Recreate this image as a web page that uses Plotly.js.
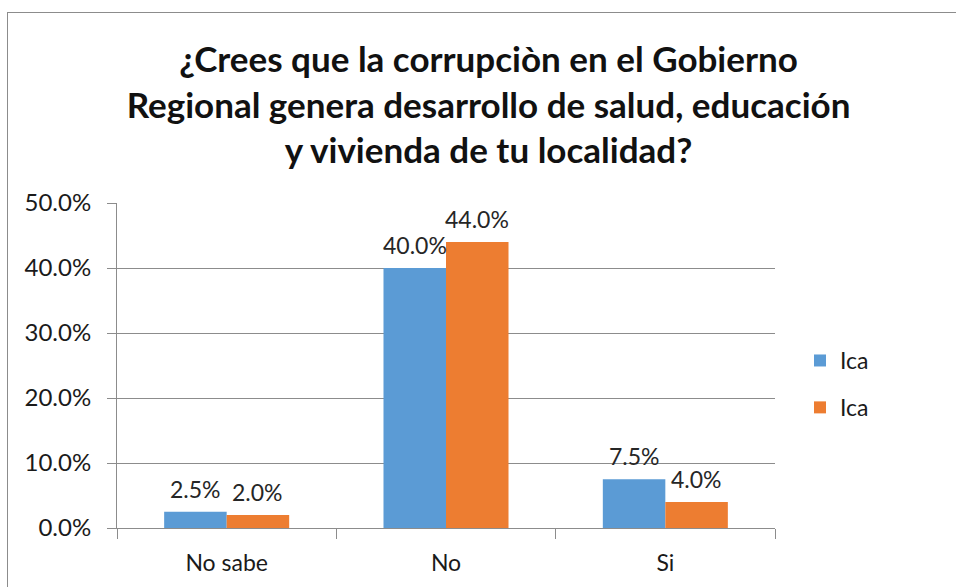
<!DOCTYPE html>
<html>
<head>
<meta charset="utf-8">
<script src="https://cdn.plot.ly/plotly-3.0.1.min.js"></script>
<style>
html,body{margin:0;padding:0;background:#fff;}
#wrap{position:relative;width:956px;height:587px;overflow:hidden;}
#chart{position:absolute;left:0;top:0;width:956px;height:587px;}
#frame{position:absolute;left:7px;top:12px;width:1000px;height:700px;border-left:1.5px solid #8c8c8c;border-top:1.5px solid #8c8c8c;pointer-events:none;}
</style>
</head>
<body>
<div id="wrap"><div id="chart"></div><div id="frame"></div></div>
<script>
const categories = ["No sabe", "No", "Si"];
const seriesNames = ["Ica", "Ica"];
const series1 = [0.025, 0.40, 0.075];
const series2 = [0.020, 0.44, 0.040];
const labels1 = ["2.5%", "40.0%", "7.5%"];
const labels2 = ["2.0%", "44.0%", "4.0%"];
const yTickVals = [0, 0.1, 0.2, 0.3, 0.4, 0.5];
const yTickText = ["0.0%", "10.0%", "20.0%", "30.0%", "40.0%", "50.0%"];

const FONT = "Lato, 'Open Sans', sans-serif";
const textFont = {family: FONT, size: 23, color: "#262626"};

const traces = [
  {type: "bar", name: seriesNames[0], x: categories, y: series1,
   marker: {color: "#5B9BD5"}, hoverinfo: "none", legendgroup: "a"},
  {type: "bar", name: seriesNames[1], x: categories, y: series2,
   marker: {color: "#ED7D31"}, hoverinfo: "none", legendgroup: "b"}
];

// data labels placed via the axis scales, shifted to each bar of the group
const annotations = [];
[[series1, labels1, -31], [series2, labels2, 31]].forEach(([vals, labs, dx]) => {
  categories.forEach((c, i) => {
    annotations.push({
      x: c, y: vals[i], xref: "x", yref: "y", text: labs[i],
      showarrow: false, xanchor: "center", yanchor: "bottom",
      xshift: dx, yshift: 7, font: textFont
    });
  });
});

const layout = {
  width: 956, height: 587,
  margin: {l: 117, r: 181, t: 203, b: 59, pad: 0},
  paper_bgcolor: "#ffffff", plot_bgcolor: "#ffffff",
  font: {family: FONT, size: 23, color: "#1a1a1a"},
  title: {
    text: "<b>¿Crees que la corrupciòn en el Gobierno<br>Regional genera desarrollo de salud, educación<br>y vivienda de tu localidad?</b>",
    font: {family: FONT, size: 35, color: "#111111"},
    x: 0.511, xanchor: "center", xref: "container",
    y: 0.877, yanchor: "top", yref: "container"
  },
  barmode: "group", bargap: 0.43, bargroupgap: 0,
  annotations: annotations,
  xaxis: {
    type: "category", showline: true, linecolor: "#8c8c8c", linewidth: 1,
    ticks: "outside", tickson: "boundaries", ticklen: 10, tickcolor: "#8c8c8c",
    showgrid: false, tickfont: {family: FONT, size: 23, color: "#1a1a1a"},
    ticklabelstandoff: 14, automargin: false
  },
  yaxis: {
    range: [0, 0.5], tickvals: yTickVals, ticktext: yTickText,
    showline: true, linecolor: "#8c8c8c", linewidth: 1,
    ticks: "outside", ticklen: 9, tickcolor: "#8c8c8c",
    showgrid: true, gridcolor: "#8c8c8c", gridwidth: 1, zeroline: false,
    tickfont: {family: FONT, size: 24, color: "#1a1a1a"},
    ticklabelstandoff: 11, automargin: false
  },
  showlegend: true,
  legend: {
    x: 1.038, xanchor: "left", y: 0.443, yanchor: "middle",
    font: {family: FONT, size: 23, color: "#1a1a1a"},
    traceorder: "grouped", tracegroupgap: 14, itemwidth: 30,
    bgcolor: "rgba(0,0,0,0)"
  }
};

Plotly.newPlot("chart", traces, layout, {displayModeBar: false, staticPlot: true});
</script>
</body>
</html>
